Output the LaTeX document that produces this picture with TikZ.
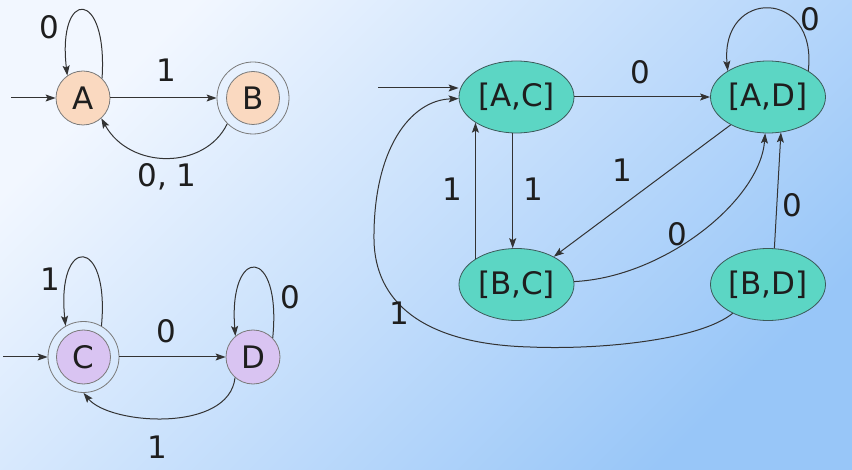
\documentclass[tikz,border=0pt]{standalone}
\usepackage{fontspec}
\setmainfont{DejaVu Sans}
\usetikzlibrary{arrows.meta,shapes.geometric}
\definecolor{bgA}{HTML}{F2F7FF}
\definecolor{bgB}{HTML}{98C6F8}
\definecolor{peach}{HTML}{FAD9C0}
\definecolor{lav}{HTML}{D9C4F2}
\definecolor{tealf}{HTML}{5CD6C4}
\definecolor{tealo}{HTML}{3C5A5A}
\definecolor{circo}{HTML}{7A7A7A}
\definecolor{txt}{HTML}{1E1E1E}
\definecolor{linec}{HTML}{333333}
\begin{document}
\begin{tikzpicture}[x=1pt,y=-1pt,
  bigfont/.style={font=\fontsize{31}{36}\selectfont, text=txt},
  stpeach/.style={circle, draw=circo, line width=0.8pt, fill=peach, minimum size=54pt, inner sep=0pt, bigfont},
  stlav/.style={circle, draw=circo, line width=0.8pt, fill=lav, minimum size=54pt, inner sep=0pt, bigfont},
  ring/.style={circle, draw=circo, line width=0.8pt, minimum size=72pt, inner sep=0pt},
  ell/.style={ellipse, draw=tealo, line width=0.8pt, fill=tealf, minimum width=115pt, minimum height=72pt, inner sep=0pt, bigfont},
  lab/.style={inner sep=0pt, bigfont},
  edge/.style={draw=linec, line width=1pt, -{Stealth[length=10pt,width=7pt,inset=2pt]}}]
\useasboundingbox (0,0) rectangle (852,470);
\shade[top color=bgA, bottom color=bgB, shading angle=45] (0,0) rectangle (852,470);

% --- A/B automaton
\node[stpeach] (A) at (83,98) {A};
\node[ring] (B) at (253,98) {};
\node[stpeach, minimum size=53pt] (Bi) at (253,98) {B};
\coordinate (iA) at (11,98);
\draw[edge] (iA) -- (A);
\draw[edge] (A) -- (B);
\draw[edge] (A.46) .. controls (108,-12) and (57,-12) .. (A.125);
\draw[edge] (B.225) .. controls (205,170) and (130,170) .. (A.-48);
\node[lab] (lA0) at (49,27) {0};
\node[lab] (lAB) at (166,70) {1};
\node[lab] (lBA) at (167,177) {0, 1};

% --- C/D automaton
\node[ring, minimum size=71pt] (C) at (83.5,357) {};
\node[stlav] (Ci) at (83.5,357) {C};
\node[stlav] (D) at (253,357) {D};
\coordinate (iC) at (3,357);
\draw[edge] (iC) -- (C);
\draw[edge] (C) -- (D);
\draw[edge] (C.60) .. controls (110,235) and (56,235) .. (C.120);
\draw[edge] (D.44) .. controls (282,245) and (228,245) .. (D.130);
\draw[edge] (D.229) .. controls (229,433) and (110,425) .. (C.270);
\node[lab] (lC1) at (50,279) {1};
\node[lab] (lCD) at (166,331) {0};
\node[lab] (lD0) at (290,297) {0};
\node[lab] (lDC) at (157,447) {1};

% --- product automaton
\node[ell] (AC) at (516.5,97) {[A,C]};
\node[ell] (AD) at (768,97) {[A,D]};
\node[ell] (BC) at (516.5,284.5) {[B,C]};
\node[ell] (BD) at (768,284.5) {[B,D]};
\coordinate (iAC) at (378,88);
\draw[edge] (iAC) -- (iAC -| AC.west);
\draw[edge] (AC) -- (AD);
\draw[edge] (AC.264) -- (BC.96);
\draw[edge] (BC.148) -- (AC.212);
\draw[edge] (AD) -- (BC);
\draw[edge] (BC) .. controls (665,277) and (760,200) .. (AD);
\draw[edge] (BD.80) -- (AD.-70);
\draw[edge] (AD.33) .. controls (818,-12) and (720,-12) .. (AD.147);
\draw[edge] (BD) .. controls (700,340) and (600,350) .. (530,347)
  .. controls (420,344) and (375,300) .. (374,240)
  .. controls (373,150) and (410,100) .. (AC);
\node[lab] (lACAD) at (640,72) {0};
\node[lab] (lAD0) at (810,19) {0};
\node[lab] (lBCAC) at (452,189) {1};
\node[lab] (lACBC) at (533,189) {1};
\node[lab] (lADBC) at (622,170) {1};
\node[lab] (lBCAD) at (677,234) {0};
\node[lab] (lBDAD) at (792,205) {0};
\node[lab] (lBDAC) at (399,313) {1};
\end{tikzpicture}
\end{document}
